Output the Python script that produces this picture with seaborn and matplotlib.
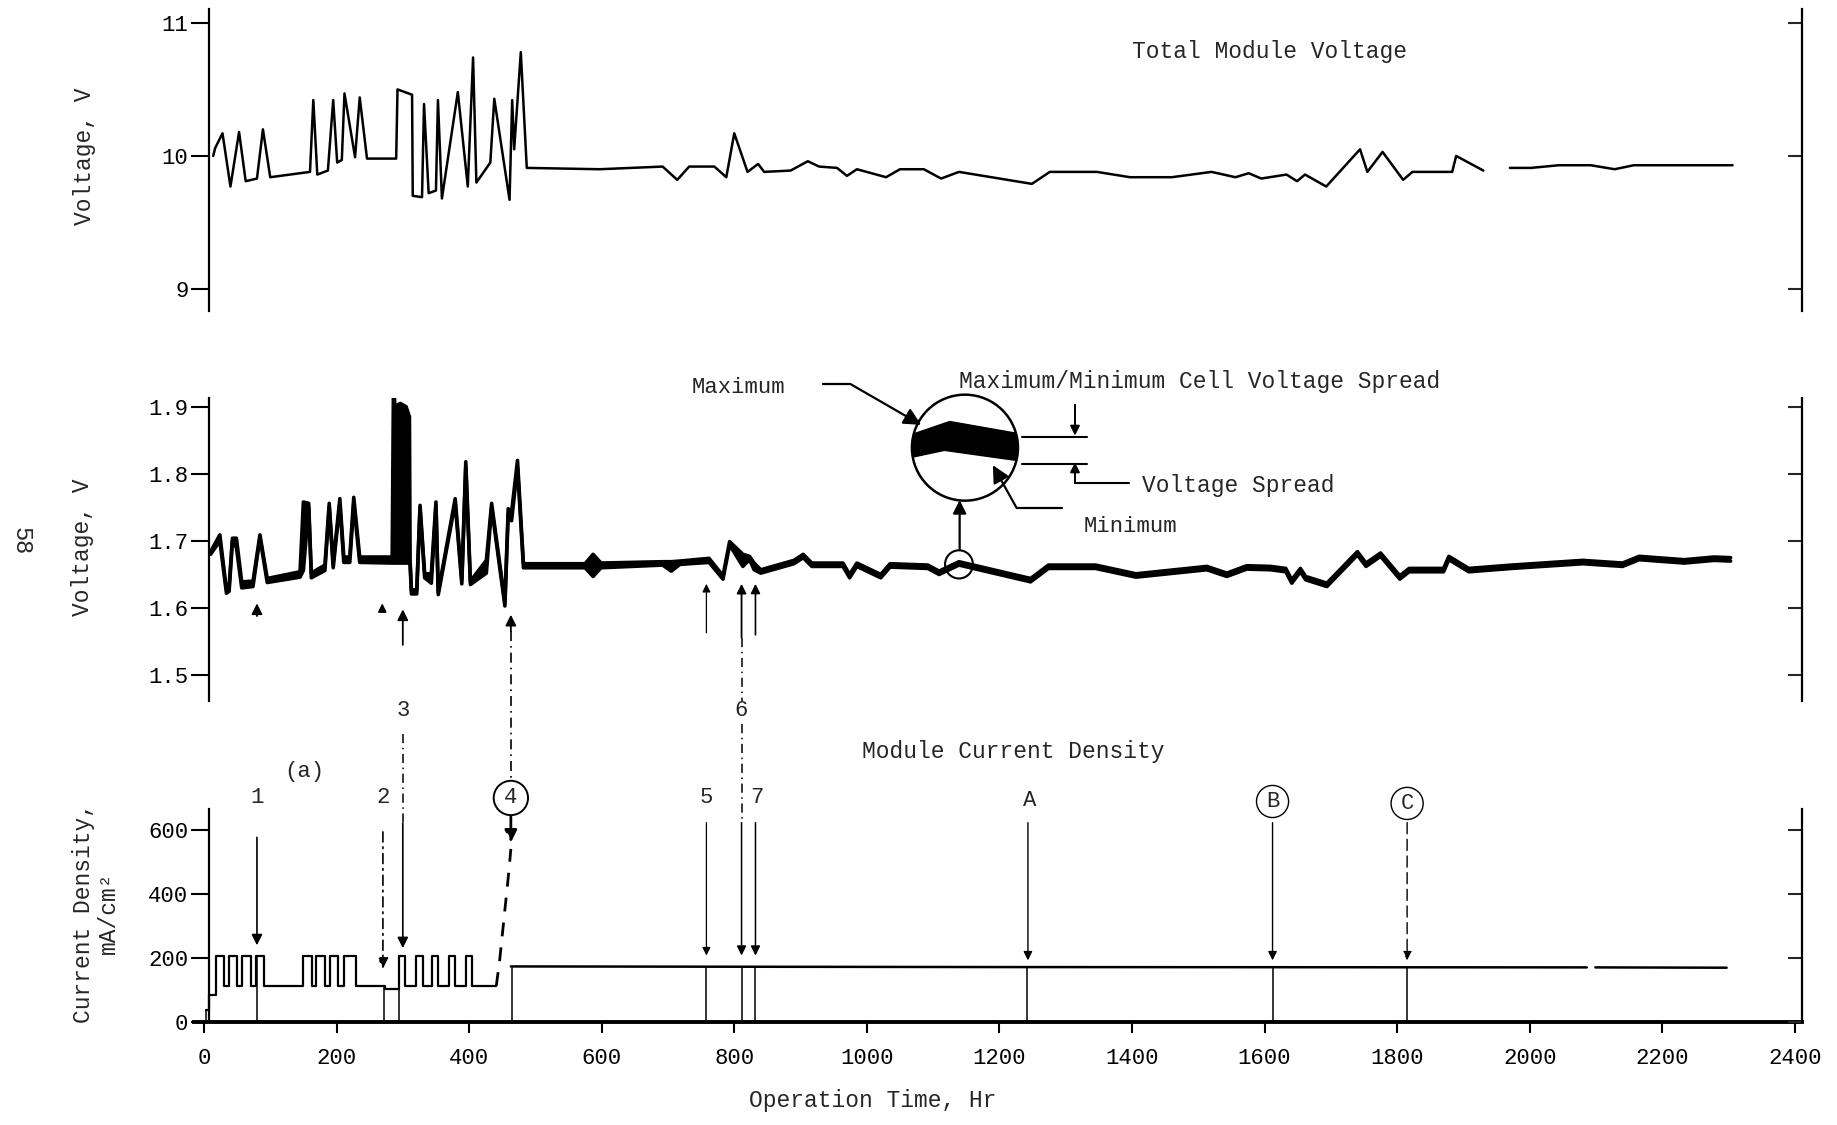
import matplotlib
matplotlib.use("Agg")
import matplotlib.pyplot as plt
import seaborn as sns
from matplotlib.patches import Ellipse, Polygon

sns.set_theme(style="white")
plt.rcParams["font.family"] = ["Liberation Mono", "DejaVu Sans Mono"]
plt.rcParams["axes.linewidth"] = 1.6

# ---------------- data ----------------
x_ticks = [0, 200, 400, 600, 800, 1000, 1200, 1400, 1600, 1800, 2000, 2200, 2400]
top_ticks = [9, 10, 11]
mid_ticks = [1.5, 1.6, 1.7, 1.8, 1.9]
cd_ticks = [0, 200, 400, 600]

# Total module voltage (two segments, gap near 1950 hr)
total_time_a = [14, 17, 28, 40, 53, 63, 80, 89, 100, 160, 165, 171, 187, 195, 201, 208, 212, 228, 235,
                246, 290, 292, 314, 315, 329, 332, 339, 350, 353, 359, 383, 398, 406, 411, 432, 438,
                461, 465, 468, 478, 487, 597, 692, 714, 732, 770, 788, 800, 820, 836, 845, 885, 911,
                928, 955, 970, 985, 1029, 1050, 1086, 1112, 1139, 1249, 1276, 1347, 1397, 1460, 1520,
                1556, 1576, 1595, 1633, 1649, 1661, 1693, 1744, 1755, 1778, 1809, 1823, 1883, 1889, 1930]
total_volt_a = [10.0, 10.06, 10.17, 9.77, 10.18, 9.81, 9.83, 10.2, 9.84, 9.88, 10.42, 9.86, 9.89, 10.42,
                9.95, 9.97, 10.47, 9.99, 10.44, 9.98, 9.98, 10.5, 10.46, 9.70, 9.69, 10.39, 9.72, 9.74,
                10.42, 9.68, 10.48, 9.77, 10.74, 9.8, 9.95, 10.43, 9.67, 10.42, 10.05, 10.78, 9.91, 9.90,
                9.92, 9.82, 9.92, 9.92, 9.84, 10.17, 9.88, 9.94, 9.88, 9.89, 9.96, 9.92, 9.91, 9.85, 9.9,
                9.84, 9.9, 9.9, 9.83, 9.88, 9.79, 9.88, 9.88, 9.84, 9.84, 9.88, 9.84, 9.87, 9.83, 9.86,
                9.81, 9.86, 9.77, 10.05, 9.88, 10.03, 9.82, 9.88, 9.88, 10.0, 9.89]
total_time_b = [1970, 2002, 2044, 2092, 2128, 2157, 2199, 2306]
total_volt_b = [9.91, 9.91, 9.93, 9.93, 9.90, 9.93, 9.93, 9.93]

# Maximum / minimum cell voltage
cell_time = [10, 24, 34, 38, 43, 49, 57, 74, 84.5, 95.5, 145, 150, 158, 162, 182.5, 189, 195, 205, 211,
             220, 226, 235, 284, 286, 288, 296, 305, 310, 311, 313, 321, 326, 333, 343, 350, 353.5, 379,
             389, 395, 402, 426, 434, 454, 459, 464, 473, 482, 575, 587, 599, 692, 705, 718, 762, 783,
             793, 813, 823, 830, 840, 890, 904, 917, 964, 974, 985, 1021, 1035, 1092, 1109, 1139, 1247,
             1274, 1345, 1406, 1513, 1543, 1573, 1609, 1632, 1641, 1654, 1662, 1694, 1740, 1753, 1775,
             1804, 1818, 1870, 1878, 1908, 1973, 2080, 2140, 2165, 2233, 2278, 2303]
cell_vmax = [1.684, 1.709, 1.627, 1.632, 1.704, 1.704, 1.639, 1.640, 1.709, 1.644, 1.654, 1.758, 1.756,
             1.652, 1.664, 1.756, 1.666, 1.763, 1.676, 1.676, 1.765, 1.676, 1.676, 1.945, 1.900, 1.905,
             1.900, 1.885, 1.671, 1.627, 1.627, 1.753, 1.651, 1.651, 1.758, 1.624, 1.763, 1.642, 1.818,
             1.640, 1.671, 1.756, 1.609, 1.748, 1.742, 1.820, 1.666, 1.666, 1.680, 1.667, 1.669, 1.669,
             1.670, 1.674, 1.648, 1.699, 1.680, 1.677, 1.667, 1.657, 1.671, 1.680, 1.667, 1.667, 1.650,
             1.667, 1.650, 1.666, 1.664, 1.655, 1.669, 1.644, 1.664, 1.664, 1.651, 1.662, 1.652, 1.663,
             1.662, 1.659, 1.642, 1.659, 1.647, 1.637, 1.684, 1.667, 1.682, 1.648, 1.659, 1.659, 1.677,
             1.659, 1.664, 1.671, 1.667, 1.677, 1.672, 1.676, 1.675]
cell_vmin = [1.680, 1.700, 1.622, 1.625, 1.700, 1.690, 1.630, 1.632, 1.705, 1.638, 1.646, 1.656, 1.750,
             1.645, 1.656, 1.750, 1.660, 1.755, 1.668, 1.668, 1.755, 1.668, 1.667, 1.667, 1.667, 1.667,
             1.667, 1.667, 1.664, 1.621, 1.621, 1.748, 1.645, 1.637, 1.752, 1.620, 1.757, 1.636, 1.810,
             1.635, 1.652, 1.750, 1.603, 1.740, 1.730, 1.810, 1.660, 1.660, 1.647, 1.660, 1.664, 1.655,
             1.665, 1.668, 1.643, 1.694, 1.662, 1.672, 1.657, 1.652, 1.666, 1.675, 1.662, 1.662, 1.645,
             1.662, 1.645, 1.661, 1.659, 1.650, 1.664, 1.639, 1.659, 1.659, 1.646, 1.657, 1.647, 1.658,
             1.657, 1.654, 1.637, 1.654, 1.642, 1.632, 1.679, 1.662, 1.677, 1.643, 1.654, 1.654, 1.672,
             1.654, 1.659, 1.666, 1.662, 1.672, 1.667, 1.671, 1.670]

# Module current density (stepped, first 441 hr)
cd_time = [2.5, 7.6, 17.7, 30.4, 38, 50.6, 58, 70.9, 78.5, 90.1, 149.4, 163, 169.6, 182.3, 189.9, 202.5,
           211.6, 228.9, 272.4, 294, 303, 320, 330, 344, 353, 370, 378, 396, 404, 441]
cd_value = [37, 85, 205, 112, 205, 112, 205, 112, 205, 112, 205, 112, 205, 112, 205, 112, 205, 112, 103,
            205, 112, 205, 112, 205, 112, 205, 112, 205, 112, 112]
ramp_time = [441, 446, 451, 456, 460, 463]
ramp_value = [112, 190, 290, 390, 470, 540]
level_time_a = [463, 1200, 2086]
level_value_a = [173, 171, 170]
level_time_b = [2099, 2297]
level_value_b = [170, 169]
event_time = [2.5, 80, 272, 294, 464, 758, 811, 831, 1242, 1612, 1815]
event_top = [37, 205, 112, 205, 173, 172, 172, 172, 171, 171, 170]

# ---------------- figure ----------------
fig = plt.figure(figsize=(18.37, 11.25), dpi=100)
fig.patch.set_facecolor("white")
ax1 = fig.add_axes([0.1056, 0.724, 0.8751, 0.2677])
ax2 = fig.add_axes([0.1056, 0.3772, 0.8751, 0.2687])
ax3 = fig.add_axes([0.1056, 0.0917, 0.8751, 0.1896])

FS = 16
K = "black"

for ax in (ax1, ax2, ax3):
    ax.set_facecolor("white")
    ax.set_xlim(-15, 2410)
    ax.spines["top"].set_visible(False)
    ax.spines["right"].set_visible(False)
    ax.spines["left"].set_position(("data", 8))
    ax.spines["left"].set_color(K)
    ax.tick_params(axis="y", direction="out", length=13, width=1.5, pad=2, labelsize=FS, colors=K,
                   left=True)
    ax.grid(False)

for ax in (ax1, ax2):
    ax.spines["bottom"].set_visible(False)
    ax.set_xticks([])

# right-side spines with inward ticks
def right_axis(ax, ticks):
    r = ax.twinx()
    r.set_ylim(ax.get_ylim())
    r.set_yticks(ticks)
    r.set_yticklabels([])
    for s in ("top", "bottom", "left"):
        r.spines[s].set_visible(False)
    r.spines["right"].set_color(K)
    r.spines["right"].set_linewidth(1.6)
    r.tick_params(axis="y", direction="in", length=10, width=1.5, right=True)
    r.grid(False)
    return r

# ---- top panel ----
ax1.set_ylim(8.838, 11.102)
ax1.set_yticks(top_ticks)
ax1.set_yticklabels(["9", "10", "11"])
sns.lineplot(x=total_time_a, y=total_volt_a, ax=ax1, color=K, linewidth=1.8, sort=False,
             estimator=None, legend=False)
sns.lineplot(x=total_time_b, y=total_volt_b, ax=ax1, color=K, linewidth=1.8, sort=False,
             estimator=None, legend=False)
ax1.set_xlabel("")
ax1.set_ylabel("Voltage, V", fontsize=FS + 0.5, va="center")
ax1.yaxis.set_label_coords(84 / 1837, 1 - 156 / 1125, transform=fig.transFigure)
ax1.text(1608, 10.786, "Total Module Voltage", fontsize=FS + 0.5, ha="center", va="center")
right_axis(ax1, top_ticks)

# ---- middle panel ----
ax2.set_ylim(1.4619, 1.9125)
ax2.set_yticks(mid_ticks)
ax2.set_yticklabels(["1.5", "1.6", "1.7", "1.8", "1.9"])
ax2.fill_between(cell_time, cell_vmin, cell_vmax, color=K, linewidth=0)
sns.lineplot(x=cell_time, y=cell_vmax, ax=ax2, color=K, linewidth=2.6, sort=False, estimator=None,
             legend=False)
sns.lineplot(x=cell_time, y=cell_vmin, ax=ax2, color=K, linewidth=2.6, sort=False, estimator=None,
             legend=False)
ax2.set_xlabel("")
ax2.set_ylabel("Voltage, V", fontsize=FS + 0.5, va="center")
ax2.yaxis.set_label_coords(82 / 1837, 1 - 547 / 1125, transform=fig.transFigure)
right_axis(ax2, mid_ticks)

# inset explanation
big = Ellipse((1148, 1.839), 160, 0.158, fill=False, ec=K, lw=1.8, clip_on=False)
ax2.add_patch(big)
band = Polygon([(1060, 1.856), (1125, 1.878), (1240, 1.858), (1240, 1.818), (1117, 1.835), (1060, 1.823)],
               closed=True, fc=K, ec=K, lw=1.0)
ax2.add_patch(band)
band.set_clip_path(big)
band.set_clip_on(True)
ax2.add_patch(Ellipse((1139, 1.665), 42, 0.042, fill=False, ec=K, lw=1.5, clip_on=False))
arr = dict(arrowstyle="-|>", color=K, lw=1.6, shrinkA=0, shrinkB=0, mutation_scale=20)
ax2.annotate("", xy=(1140, 1.761), xytext=(1140, 1.687), arrowprops=arr, annotation_clip=False)
ax2.text(735, 1.929, "Maximum", fontsize=FS, ha="left", va="center", clip_on=False)
ax2.plot([934, 975], [1.934, 1.934], color=K, lw=1.6, clip_on=False)
ax2.annotate("", xy=(1082, 1.873), xytext=(975, 1.934),
             arrowprops=dict(arrowstyle="-|>", color=K, lw=1.6, shrinkA=0, shrinkB=0, mutation_scale=26),
             annotation_clip=False)
ax2.text(1327, 1.722, "Minimum", fontsize=FS, ha="left", va="center", clip_on=False)
ax2.plot([1294, 1226], [1.749, 1.749], color=K, lw=1.6, clip_on=False)
ax2.annotate("", xy=(1190, 1.813), xytext=(1226, 1.749),
             arrowprops=dict(arrowstyle="-|>", color=K, lw=1.6, shrinkA=0, shrinkB=0, mutation_scale=26),
             annotation_clip=False)
ax2.plot([1234, 1332], [1.855, 1.855], color=K, lw=1.5, clip_on=False)
ax2.plot([1234, 1332], [1.815, 1.815], color=K, lw=1.5, clip_on=False)
small_arr = dict(arrowstyle="-|>", color=K, lw=1.4, shrinkA=0, shrinkB=0, mutation_scale=14)
ax2.annotate("", xy=(1314, 1.857), xytext=(1314, 1.903), arrowprops=small_arr, annotation_clip=False)
ax2.annotate("", xy=(1314, 1.817), xytext=(1314, 1.786), arrowprops=small_arr, annotation_clip=False)
ax2.plot([1314, 1395], [1.786, 1.786], color=K, lw=1.5, clip_on=False)
ax2.text(1415, 1.783, "Voltage Spread", fontsize=FS + 0.5, ha="left", va="center", clip_on=False)
ax2.text(1139, 1.938, "Maximum/Minimum Cell Voltage Spread", fontsize=FS + 0.5, ha="left", va="center",
         clip_on=False)

# event arrows in the cell-voltage panel (pointing up)
def up_arrow(ax, x, y0, y1, lw=1.3, ms=16, ls="-"):
    ax.annotate("", xy=(x, y1), xytext=(x, y0),
                arrowprops=dict(arrowstyle="-|>", color=K, lw=lw, linestyle=ls, shrinkA=0, shrinkB=0,
                                mutation_scale=ms), annotation_clip=False)

up_arrow(ax2, 80, 1.588, 1.607, ms=16)
up_arrow(ax2, 269, 1.594, 1.607, ms=12)
up_arrow(ax2, 300, 1.545, 1.598, ms=16)
up_arrow(ax2, 463, 1.565, 1.590, ms=16)
ax2.plot([463, 463], [1.565, 1.345], color=K, lw=1.2, ls=(0, (6, 3, 1, 3)), clip_on=False)
up_arrow(ax2, 758, 1.563, 1.636, lw=0.9, ms=12)
up_arrow(ax2, 811, 1.556, 1.636, lw=1.3, ms=14)
ax2.plot([811, 811], [1.556, 1.462], color=K, lw=1.1, ls=(0, (6, 3, 1, 3)), clip_on=False)
up_arrow(ax2, 832, 1.560, 1.636, lw=1.2, ms=14)

# ---- bottom panel ----
ax3.set_ylim(0, 666)
ax3.set_yticks(cd_ticks)
ax3.set_yticklabels(["0", "200", "400", "600"])
ax3.spines["bottom"].set_linewidth(2.8)
ax3.spines["bottom"].set_color(K)
ax3.set_xticks(x_ticks)
ax3.set_xticklabels([str(v) for v in x_ticks])
ax3.tick_params(axis="x", direction="out", length=8, width=1.5, pad=11, labelsize=FS, colors=K,
                bottom=True)
sns.lineplot(x=cd_time, y=cd_value, ax=ax3, color=K, linewidth=1.6, sort=False, estimator=None,
             legend=False, drawstyle="steps-post")
sns.lineplot(x=level_time_a, y=level_value_a, ax=ax3, color=K, linewidth=1.8, sort=False,
             estimator=None, legend=False)
sns.lineplot(x=level_time_b, y=level_value_b, ax=ax3, color=K, linewidth=1.8, sort=False,
             estimator=None, legend=False)
sns.lineplot(x=ramp_time, y=ramp_value, ax=ax3, color=K, linewidth=2.0, sort=False, estimator=None,
             legend=False, linestyle=(0, (5, 4)))
ax3.vlines(event_time, 0, event_top, color=K, lw=1.1)
ax3.set_ylabel("Current Density,\nmA/cm\u00b2", fontsize=FS + 0.5, va="center", multialignment="center",
               linespacing=1.15)
ax3.yaxis.set_label_coords(96 / 1837, 1 - 913 / 1125, transform=fig.transFigure)
ax3.set_xlabel("Operation Time, Hr", fontsize=FS + 0.5, va="center")
ax3.xaxis.set_label_coords(873 / 1837, 1 - 1101 / 1125, transform=fig.transFigure)
right_axis(ax3, cd_ticks)

def down_arrow(x, y0, y1, lw=1.2, ms=16, ls="-"):
    ax3.annotate("", xy=(x, y1), xytext=(x, y0),
                 arrowprops=dict(arrowstyle="-|>", color=K, lw=lw, linestyle=ls, shrinkA=0, shrinkB=0,
                                 mutation_scale=ms), annotation_clip=False)

dashdot = (0, (6, 3, 1, 3))
down_arrow(80, 576, 239)
down_arrow(270, 593, 166, ls=dashdot)
ax3.plot([300, 300], [900, 620], color=K, lw=1.1, ls=dashdot, clip_on=False)
down_arrow(300, 620, 230)
down_arrow(463, 640, 560, lw=2.0, ms=18, ls=(0, (4, 3)))
down_arrow(758, 622, 207, lw=0.9, ms=12)
ax3.plot([811, 811], [930, 622], color=K, lw=1.1, ls=dashdot, clip_on=False)
down_arrow(811, 622, 207, lw=1.1, ms=14)
down_arrow(832, 622, 207, lw=1.1, ms=14)
down_arrow(1243, 622, 192, lw=1.0, ms=13)
down_arrow(1612, 622, 192, lw=1.0, ms=13)
down_arrow(1815, 622, 192, lw=1.0, ms=13, ls=(0, (8, 4)))

lbl = dict(fontsize=FS, ha="center", va="center", clip_on=False)
ax3.text(80, 699, "1", **lbl)
ax3.text(152, 781, "(a)", **lbl)
ax3.text(270, 699, "2", **lbl)
ax3.text(300, 972, "3", **lbl)
ax3.text(463, 699, "4", bbox=dict(boxstyle="circle,pad=0.3", fc="none", ec=K, lw=1.4), **lbl)
ax3.text(758, 699, "5", **lbl)
ax3.text(810, 972, "6", **lbl)
ax3.text(834, 699, "7", **lbl)
ax3.text(1245, 692, "A", **lbl)
ax3.text(1612, 688, "B", bbox=dict(boxstyle="circle,pad=0.25", fc="none", ec=K, lw=1.0), **lbl)
ax3.text(1815, 682, "C", bbox=dict(boxstyle="circle,pad=0.25", fc="none", ec=K, lw=1.0), **lbl)
ax3.text(1221, 845, "Module Current Density", fontsize=FS + 0.5, ha="center", va="center", clip_on=False)

fig.text(0.0114, 0.519, "58", fontsize=FS + 1, rotation=-90, ha="center", va="center")

fig.savefig("out.png", dpi=100, facecolor="white")
